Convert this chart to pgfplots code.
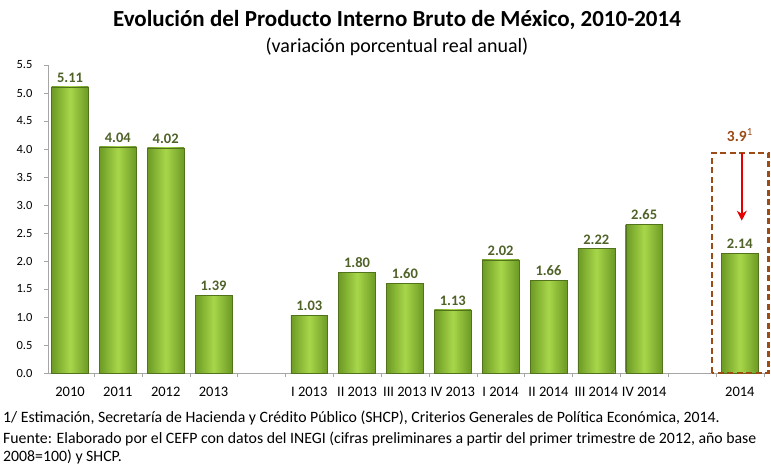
\documentclass[border=0pt]{standalone}
\usepackage{pgfplots}
\pgfplotsset{compat=1.18}
\usepackage{fontspec}
\setmainfont{Carlito}
\usetikzlibrary{arrows.meta}
\definecolor{barlight}{HTML}{A8D64A}
\definecolor{bardark}{HTML}{6C9A24}
\definecolor{labgreen}{HTML}{4F6228}
\definecolor{boxbrown}{HTML}{9C4A16}
\definecolor{axgray}{HTML}{A6A6A6}

\pgfplotsset{
  gbar/.style={ybar, bar width=0.77, bar shift=0pt,
    draw=bardark!75!black, line width=0.4pt,
    left color=bardark, right color=bardark, middle color=barlight,
    nodes near coords, point meta=explicit symbolic,
    nodes near coords style={font=\bfseries\fontsize{14.5}{15}\selectfont, text=labgreen, yshift=1pt}},
}

\begin{document}
\begin{tikzpicture}
\useasboundingbox (-48pt,-92pt) rectangle (723pt,373pt);
\begin{axis}[
  name=ax, scale only axis, width=722pt, height=308pt,
  at={(0pt,0pt)}, anchor=south west,
  xmin=-0.46, xmax=14.63, ymin=0, ymax=5.5,
  axis lines*=left, clip=false,
  axis line style={axgray},
  tick style={axgray}, tick align=outside,
  /pgf/number format/assume math mode=true,
  ytick={0,0.5,1,1.5,2,2.5,3,3.5,4,4.5,5,5.5},
  yticklabel style={/pgf/number format/.cd, fixed, fixed zerofill, precision=1,
    /tikz/.cd, font=\fontsize{12.5}{13}\selectfont, xshift=-8pt},
  xtick={0,1,2,3,5,6,7,8,9,10,11,12,14},
  xticklabels={2010,2011,2012,2013,I 2013,II 2013,III 2013,IV 2013,I 2014,II 2014,III 2014,IV 2014,2014},
  xticklabel style={font=\fontsize{14.5}{15}\selectfont, yshift=-7pt},
  major x tick style={draw=none},
  minor xtick={-0.5,0.5,1.5,2.5,3.5,4.5,5.5,6.5,7.5,8.5,9.5,10.5,11.5,12.5,13.5,14.5},
  minor tick length=4pt, major tick length=4pt,
  tick label style={text=black},
]
\addplot[gbar] coordinates {(0,5.11) [5.11]};
\addplot[gbar] coordinates {(1,4.04) [4.04]};
\addplot[gbar] coordinates {(2,4.02) [4.02]};
\addplot[gbar] coordinates {(3,1.39) [1.39]};
\addplot[gbar] coordinates {(5,1.03) [1.03]};
\addplot[gbar] coordinates {(6,1.80) [1.80]};
\addplot[gbar] coordinates {(7,1.60) [1.60]};
\addplot[gbar] coordinates {(8,1.13) [1.13]};
\addplot[gbar] coordinates {(9,2.02) [2.02]};
\addplot[gbar] coordinates {(10,1.66) [1.66]};
\addplot[gbar] coordinates {(11,2.22) [2.22]};
\addplot[gbar] coordinates {(12,2.65) [2.65]};
\addplot[gbar] coordinates {(14,2.14) [2.14]};
\draw[boxbrown, line width=2.5pt, dash pattern=on 6pt off 3.5pt]
  (axis cs:13.42,0) rectangle (axis cs:14.6,3.93);
\draw[-{Stealth[length=10pt,width=10pt]}, red!90!black, line width=2pt]
  (axis cs:14.04,3.93) -- (axis cs:14.04,2.72);
\node[text=boxbrown, font=\bfseries\fontsize{15.5}{16}\selectfont] at (axis cs:14.0,4.25)
  {3.9\textsuperscript{\mdseries 1}};
\end{axis}
\node[font=\bfseries\fontsize{23}{25}\selectfont] at (349pt,353pt)
  {Evolución del Producto Interno Bruto de México, 2010-2014};
\node[font=\fontsize{20}{22}\selectfont] at (349pt,326pt)
  {(variación porcentual real anual)};
\node[anchor=west, font=\fontsize{15.8}{17}\selectfont, inner sep=0pt] at (-45pt,-45pt)
  {1/ Estimación, Secretaría de Hacienda y Crédito Público (SHCP), Criterios Generales de Política Económica, 2014.};
\node[anchor=west, font=\fontsize{15.8}{17}\selectfont, inner sep=0pt] at (-45pt,-66pt)
  {Fuente: Elaborado por el CEFP con datos del INEGI (cifras preliminares a partir del primer trimestre de 2012, año base};
\node[anchor=west, font=\fontsize{15.8}{17}\selectfont, inner sep=0pt] at (-45pt,-84pt)
  {2008=100) y SHCP.};
\end{tikzpicture}
\end{document}
